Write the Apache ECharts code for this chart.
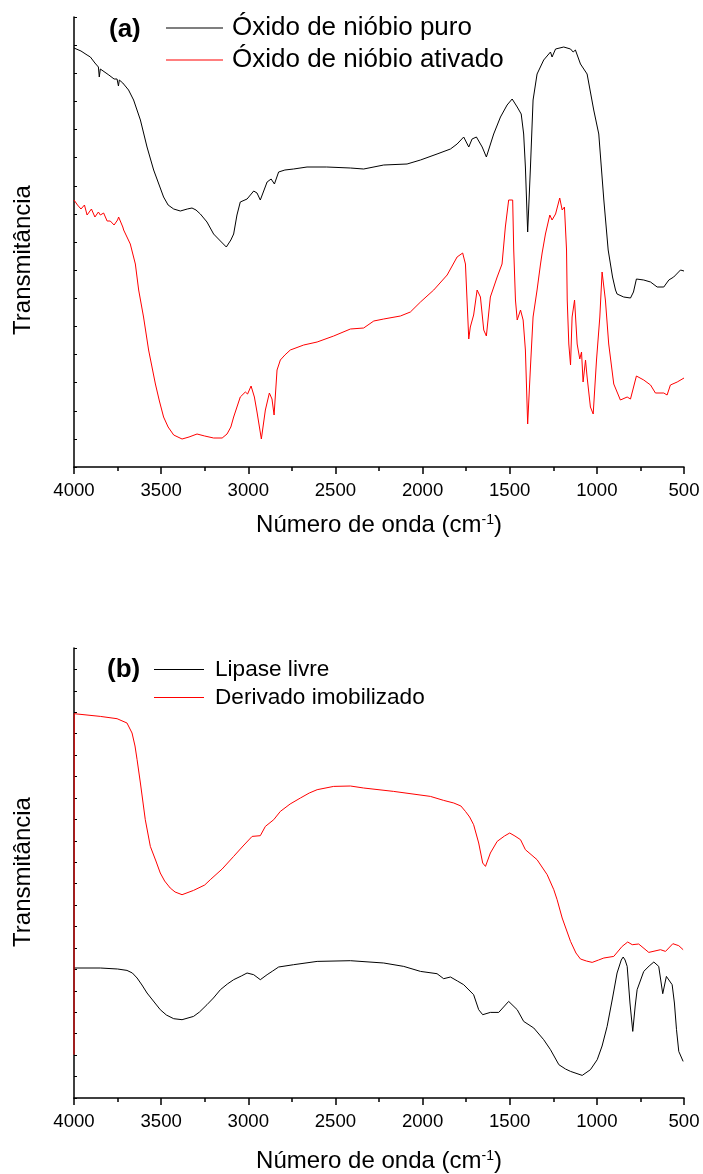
<!DOCTYPE html>
<html>
<head>
<meta charset="utf-8">
<script src="https://cdn.jsdelivr.net/npm/echarts@6/dist/echarts.min.js"></script>
<style>html,body{margin:0;padding:0;background:#fff;}#c{width:703px;height:1174px;}</style>
</head>
<body>
<div id="c"></div>
<script>
// ---- Data: [wavenumber (cm-1), transmittance (arbitrary units)] ----
const xTicks = [4000, 3500, 3000, 2500, 2000, 1500, 1000, 500];

const puro = [[4000,419],[3960,416],[3925,412],[3906,410],[3880,404],[3860,400],[3855,390],[3849,398],[3800,392],[3770,388],[3753,388],[3745,381],[3740,387],[3720,384],[3687,377],[3658,367],[3619,347],[3581,320],[3543,297],[3486,270],[3460,262],[3428,258],[3390,256],[3350,258],[3323,259],[3300,257],[3275,253],[3237,245],[3199,233],[3160,226],[3126,220],[3100,227],[3084,233],[3065,252],[3046,265],[3007,268],[2969,276],[2950,274],[2931,267],[2892,285],[2869,288],[2850,283],[2826,295],[2790,297],[2740,298],[2663,300],[2550,300],[2414,299],[2338,298],[2223,302],[2089,303],[2012,307],[1917,313],[1840,318],[1802,323],[1764,330],[1735,320],[1716,328],[1691,330],[1658,320],[1634,310],[1592,333],[1553,350],[1515,362],[1486,368],[1457,360],[1434,353],[1420,333],[1410,300],[1397,235],[1381,300],[1366,367],[1343,393],[1305,407],[1266,415],[1257,410],[1237,418],[1190,420],[1151,418],[1136,415],[1123,417],[1094,403],[1056,393],[1018,357],[989,333],[960,267],[935,217],[910,190],[893,177],[884,173],[846,170],[807,169],[790,175],[773,188],[731,187],[692,185],[654,180],[616,180],[587,187],[559,190],[520,197],[500,196]];

const ativado = [[4000,267],[3980,262],[3960,258],[3940,262],[3925,252],[3900,258],[3880,250],[3860,255],[3849,252],[3830,254],[3810,246],[3792,246],[3770,242],[3750,247],[3744,250],[3720,240],[3715,237],[3677,223],[3648,203],[3629,177],[3601,150],[3572,117],[3533,83],[3510,66],[3486,50],[3460,40],[3428,32],[3380,28],[3340,30],[3294,33],[3250,31],[3199,29],[3150,29],[3122,33],[3100,40],[3084,50],[3046,70],[3017,75],[3004,73],[2984,81],[2965,70],[2950,55],[2925,28],[2902,57],[2879,74],[2864,68],[2852,52],[2835,97],[2816,107],[2790,112],[2759,117],[2682,122],[2605,125],[2510,131],[2414,138],[2338,139],[2280,146],[2223,148],[2127,151],[2070,155],[2012,165],[1936,177],[1859,192],[1802,210],[1770,214],[1754,203],[1735,128],[1726,140],[1707,152],[1687,177],[1668,170],[1649,137],[1634,131],[1611,170],[1572,190],[1544,203],[1525,240],[1506,267],[1496,268],[1483,267],[1477,217],[1467,167],[1457,147],[1438,157],[1423,147],[1410,117],[1397,43],[1381,100],[1366,150],[1343,177],[1324,202],[1314,214],[1295,233],[1270,252],[1257,247],[1237,253],[1213,269],[1199,257],[1186,260],[1174,217],[1170,167],[1161,123],[1151,102],[1142,150],[1128,167],[1113,123],[1098,108],[1088,115],[1079,85],[1065,107],[1056,90],[1037,60],[1021,53],[1002,107],[983,150],[970,195],[951,167],[932,123],[903,83],[865,67],[826,70],[807,68],[773,91],[731,87],[692,82],[664,74],[616,74],[597,72],[578,82],[539,85],[500,89]];

const livre = [[4000,130],[3849,130],[3750,129],[3696,127.6],[3665,125],[3638,120],[3610,113],[3581,105],[3540,96],[3505,88.3],[3470,83],[3428,79.3],[3380,78.3],[3314,81.6],[3280,86],[3237,93.3],[3200,100],[3160,108.3],[3120,114],[3084,118.3],[3040,122],[3007,125],[2969,123.3],[2931,118.3],[2892,123.3],[2860,127],[2826,131],[2740,133.3],[2605,136.6],[2414,137.3],[2223,135],[2108,131.6],[2012,126.6],[1917,124.3],[1879,119.3],[1840,121],[1800,117],[1764,113.3],[1707,103.3],[1678,88.3],[1655,83.3],[1611,85.6],[1563,85.6],[1506,96.6],[1457,88.3],[1420,76.6],[1362,70],[1305,58.3],[1266,48.3],[1218,33.3],[1180,29],[1151,26.6],[1084,22.6],[1037,28.3],[998,38.3],[970,52],[941,71.6],[910,100],[884,125],[860,138],[849,141],[838,138],[826,131.6],[810,95],[794,66.6],[780,92],[769,108.3],[731,126.6],[700,132],[673,136],[645,131.6],[622,104.3],[601,121.6],[568,113.3],[555,95],[543,68.3],[530,46.6],[505,36.6]];

const imob = [[4000,43.3],[3999,384.3],[3849,381.6],[3753,379.3],[3696,375],[3667,365],[3650,352],[3638,338.3],[3619,315],[3591,278.3],[3562,251.6],[3530,237],[3505,225],[3480,217],[3448,210],[3420,206],[3380,203.3],[3314,207.6],[3250,213],[3218,218.3],[3150,229],[3084,241.6],[3030,252],[2978,261.6],[2931,262.3],[2902,271.6],[2854,278.3],[2816,286.6],[2760,294],[2701,300],[2650,305],[2605,308.3],[2510,311.6],[2414,312],[2338,310],[2166,306.6],[1955,301.6],[1879,297.6],[1821,295],[1780,292],[1754,286.6],[1730,281],[1707,273.3],[1678,255],[1655,235],[1639,231.6],[1611,245],[1572,256.6],[1530,262],[1500,265],[1470,262],[1438,258.3],[1410,248.3],[1343,238.3],[1285,223.3],[1247,208.3],[1228,198.3],[1199,180],[1190,178.3],[1151,156.6],[1120,145],[1094,139],[1060,137],[1027,135.6],[990,138],[960,140],[903,141.6],[855,151.6],[823,156],[797,153.3],[760,154],[702,145.6],[635,148.3],[606,146.6],[564,154.3],[530,152.3],[505,148.3]];

const names = ['Óxido de nióbio puro', 'Óxido de nióbio ativado', 'Lipase livre', 'Derivado imobilizado'];
const panelLabels = ['(a)', '(b)'];
const yTitle = 'Transmitância';
const xTitle = 'Número de onda (cm{sup|-1})';

// ---- Build ----
const FF = '"Liberation Sans", Arial, sans-serif';

function xAxisCfg(idx, gap) {
  return {
    type: 'value', gridIndex: idx, min: 500, max: 4000, interval: 500, inverse: true,
    axisLine: { onZero: false, lineStyle: { color: '#000', width: 1.5 } },
    axisTick: { length: 7, lineStyle: { color: '#000', width: 1.5 } },
    minorTick: { show: true, splitNumber: 2, length: 4, lineStyle: { color: '#000', width: 1.5 } },
    splitLine: { show: false },
    axisLabel: { color: '#000', fontSize: 18.6, fontFamily: FF, margin: 14,
      formatter: v => (xTicks.indexOf(v) >= 0 ? String(v) : '') },
    name: xTitle, nameLocation: 'middle', nameGap: gap,
    nameTextStyle: { color: '#000', fontSize: 24, fontFamily: FF,
      rich: { sup: { fontSize: 14, fontFamily: FF, color: '#000', verticalAlign: 'top', padding: [0, 0, 10, 0] } } }
  };
}
function yAxisCfg(idx, n) {
  return {
    type: 'value', gridIndex: idx, min: 0, max: 450, interval: 450 / n,
    axisLine: { show: true, onZero: false, lineStyle: { color: '#000', width: 1.5 } },
    axisTick: { show: true, inside: true, length: 3, lineStyle: { color: '#000', width: 1 } },
    axisLabel: { show: false }, splitLine: { show: false }
  };
}
function line(name, data, idx, color) {
  return {
    name, type: 'line', xAxisIndex: idx, yAxisIndex: idx, data,
    symbol: 'none', showSymbol: false, lineStyle: { color, width: 1 }, itemStyle: { color }, animation: false
  };
}

const chart = echarts.init(document.getElementById('c'), null, { renderer: 'canvas' });
chart.setOption({
  animation: false,
  backgroundColor: '#fff',
  title: [
    { text: panelLabels[0], left: 109, top: 17, padding: 0, textStyle: { fontSize: 26, fontWeight: 'bold', fontFamily: FF, color: '#000' } },
    { text: panelLabels[1], left: 107, top: 657, padding: 0, textStyle: { fontSize: 26, fontWeight: 'bold', fontFamily: FF, color: '#000' } }
  ],
  legend: [
    { data: [names[0], names[1]], orient: 'vertical', left: 166, top: 15, padding: 0,
      icon: 'rect', itemWidth: 57, itemHeight: 1.2, itemGap: 6,
      textStyle: { fontSize: 26, fontFamily: FF, color: '#000', padding: [0, 0, 0, 4] } },
    { data: [names[2], names[3]], orient: 'vertical', left: 154, top: 658, padding: 0,
      icon: 'rect', itemWidth: 50, itemHeight: 1.2, itemGap: 5,
      textStyle: { fontSize: 22.6, fontFamily: FF, color: '#000', padding: [0, 0, 0, 6] } }
  ],
  grid: [
    { left: 74, top: 17, width: 610, height: 450 },
    { left: 74, top: 648, width: 610, height: 450 }
  ],
  xAxis: [xAxisCfg(0, 46), xAxisCfg(1, 51)],
  yAxis: [yAxisCfg(0, 16), yAxisCfg(1, 21)],
  graphic: [
    { type: 'text', x: 23, y: 260, rotation: Math.PI / 2,
      style: { text: yTitle, font: '24px ' + FF, fill: '#000', textAlign: 'center', textVerticalAlign: 'middle' } },
    { type: 'text', x: 23, y: 872, rotation: Math.PI / 2,
      style: { text: yTitle, font: '24px ' + FF, fill: '#000', textAlign: 'center', textVerticalAlign: 'middle' } }
  ],
  series: [
    line(names[0], puro, 0, '#000000'),
    line(names[1], ativado, 0, '#ff0000'),
    line(names[2], livre, 1, '#000000'),
    line(names[3], imob, 1, '#ff0000')
  ]
});
</script>
</body>
</html>
